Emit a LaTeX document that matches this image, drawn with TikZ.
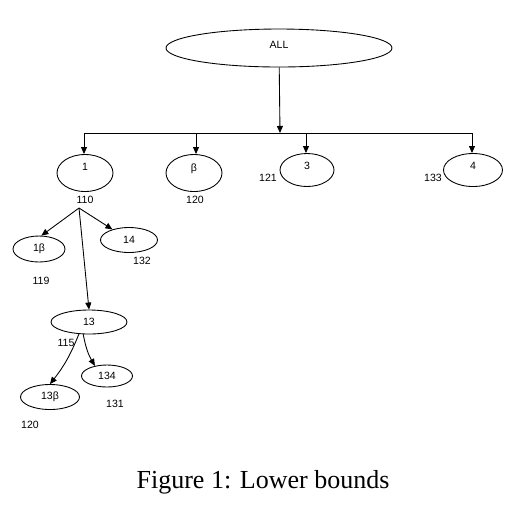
\documentclass[tikz,border=0pt]{standalone}
\usepackage{fontspec}
\setmainfont{Liberation Serif}
\setsansfont{Liberation Sans}
\usepackage{tikz}
\usetikzlibrary{positioning, shapes.geometric, arrows.meta}

\tikzset{
  ell/.style n args={2}{ellipse, draw, line width=0.5pt, inner sep=0pt,
    minimum width=#1*0.02cm, minimum height=#2*0.02cm,
    font=\sffamily\fontsize{6}{7}\selectfont},
  raised/.style={text depth=#1},
  val/.style={inner sep=0pt, font=\sffamily\fontsize{6}{7}\selectfont},
  arr/.style={-{Triangle[length=4pt,width=3.4pt]}, line width=0.5pt}
}

\begin{document}
\begin{tikzpicture}[x=0.02cm, y=-0.02cm]
    \useasboundingbox (0,0) rectangle (514,512);

    % Draw root and first level
    \node[ell={226}{38}, raised=4pt] (all) at (279,48) {ALL};
    \node[ell={56}{37}, raised=7pt] (n1) at (85,173) {1};
    \node[ell={56}{37}, raised=6pt] (nb) at (194,173) {β};
    \node[ell={54}{33}, raised=4.5pt] (n3) at (307,170) {3};
    \node[ell={59}{33}, raised=4.5pt] (n4) at (473,170) {4};

    % Draw second and third level
    \node[ell={52}{26}] (n1b) at (39,249) {1β};
    \node[ell={57}{25}] (n14) at (129,240) {14};
    \node[ell={76}{24}] (n13) at (89,322) {13};
    \node[ell={59}{25}] (n13b) at (50,397) {13β};
    \node[ell={51}{22}] (n134) at (107,376) {134};

    % Bounds
    \foreach \n/\x/\y/\t in {v1/85/200/110, vb/195/200/120, v3/268/178/121, v4/433/178/133,
      v14/142/261/132, v1b/41/281/119, v13/66/343/115, v134/115/404/131, v13b/30/425/120} {
      \node[val] (\n) at (\x,\y) {\t};
    }

    % Draw connectors
    \coordinate (bar) at (280,133);
    \coordinate (b1) at (84,133);
    \coordinate (bb) at (196,133);
    \coordinate (b3) at (306,133);
    \coordinate (b4) at (472,133);
    \coordinate (fork) at (79,208);
    \draw[arr] (all) -- (bar);
    \draw[line width=0.5pt] (b1) -- (b4);
    \draw[arr] (b1) -- (b1 |- n1.north);
    \draw[arr] (bb) -- (bb |- nb.north);
    \draw[arr] (b3) -- (b3 |- n3.north);
    \draw[arr] (b4) -- (b4 |- n4.north);
    \draw[arr] (fork) -- (n1b.80);
    \draw[arr] (fork) -- (n14);
    \draw[arr] (fork) -- (n13.north);
    \draw[arr] (n13.230) to[bend left=8] (n13b.north);
    \draw[arr] (n13.245) to[bend right=10] (n134.140);

    \node (cap) at (263,482) {\fontsize{14.8}{17}\selectfont Figure 1: Lower bounds};
\end{tikzpicture}
\end{document}
